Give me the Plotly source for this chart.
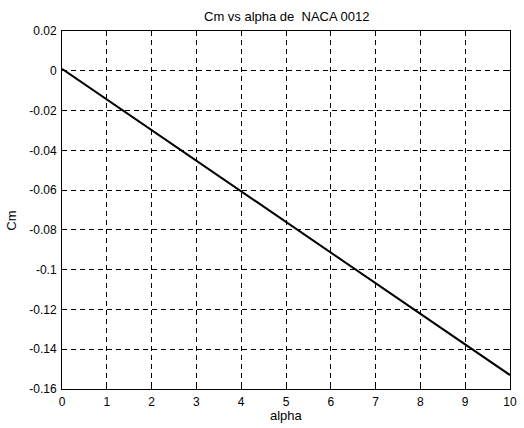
import plotly.graph_objects as go

alpha = [0, 1, 2, 3, 4, 5, 6, 7, 8, 9, 10]
cm = [0.001, -0.0144, -0.0298, -0.0452, -0.0606, -0.076, -0.0914, -0.1068, -0.1222, -0.1376, -0.153]
x_ticks = [0, 1, 2, 3, 4, 5, 6, 7, 8, 9, 10]
y_ticks = [0.02, 0, -0.02, -0.04, -0.06, -0.08, -0.1, -0.12, -0.14, -0.16]
y_labels = ["0.02", "0", "-0.02", "-0.04", "-0.06", "-0.08", "-0.1", "-0.12", "-0.14", "-0.16"]

fam = "Liberation Sans, Arial, sans-serif"
tick_font = dict(family=fam, size=12, color="black")
label_font = dict(family=fam, size=13, color="black")

fig = go.Figure()
fig.add_trace(go.Scatter(x=alpha, y=cm, mode="lines",
                         line=dict(color="black", width=2), showlegend=False))

axis_common = dict(showline=True, linecolor="black", linewidth=1, mirror="ticks",
                   ticks="inside", ticklen=5, tickcolor="black", tickwidth=1,
                   showgrid=True, gridcolor="black", gridwidth=1, griddash="5px,4px",
                   zeroline=False, tickfont=tick_font)

fig.update_layout(
    width=524, height=428,
    margin=dict(l=62, r=7, t=31, b=39),
    paper_bgcolor="white", plot_bgcolor="white",
    font=tick_font,
    xaxis=dict(range=[0, 10], tickvals=x_ticks, ticktext=[str(v) for v in x_ticks],
               ticklabelstandoff=2, **axis_common),
    yaxis=dict(range=[-0.16, 0.02], tickvals=y_ticks, ticktext=y_labels,
               ticklabelstandoff=2, **axis_common),
    annotations=[
        dict(text="Cm vs alpha de  NACA 0012", xref="paper", yref="paper", x=0.5, y=1,
             yshift=15, showarrow=False, font=label_font,
             xanchor="center", yanchor="middle"),
        dict(text="alpha", xref="paper", yref="paper", x=0.5, y=0, yshift=-26,
             showarrow=False, font=label_font, xanchor="center", yanchor="middle"),
        dict(text="Cm", xref="paper", yref="paper", x=0, y=0.47, xshift=-50,
             showarrow=False, font=label_font, textangle=-90, xanchor="center", yanchor="middle"),
    ],
)

fig.write_html("out.html")
